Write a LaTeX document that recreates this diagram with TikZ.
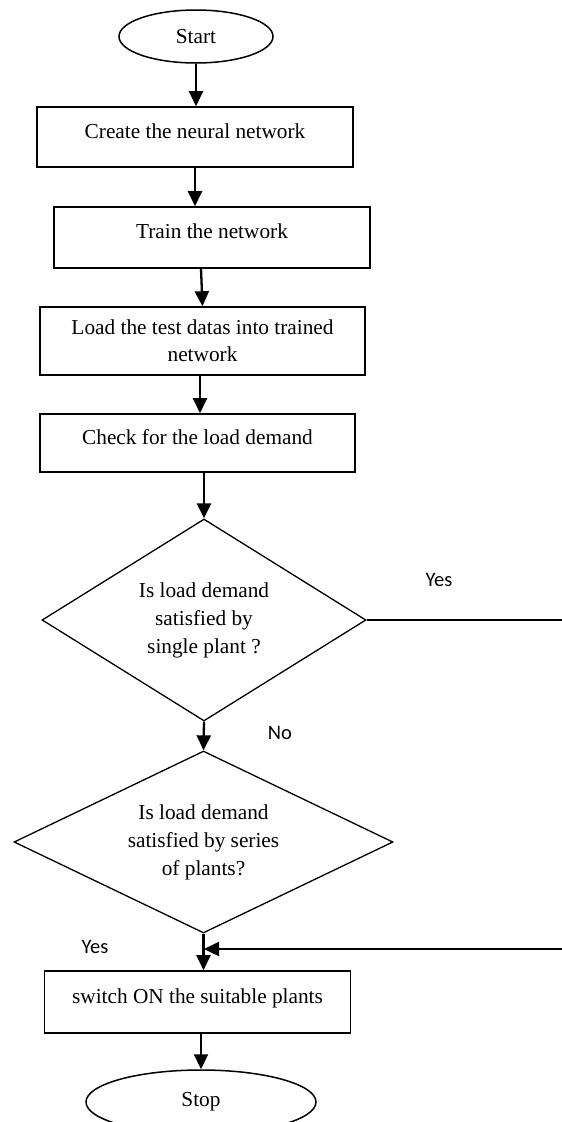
\documentclass[tikz,border=0pt]{standalone}
\usepackage{fontspec}
\setmainfont{Liberation Serif}
\newfontfamily\labfont{Carlito}
\usetikzlibrary{shapes.geometric,arrows.meta,calc}
\tikzset{
  stepbox/.style={draw, line width=1.6pt, rectangle, inner sep=0pt, align=center,
    font=\fontsize{21.3}{27}\selectfont},
  termbox/.style={draw, line width=1.5pt, ellipse, inner sep=0pt,
    font=\fontsize{21.3}{27}\selectfont},
  decbox/.style={draw, line width=1.3pt, diamond, inner sep=0pt, align=center,
    font=\fontsize{21.3}{28}\selectfont},
  flow/.style={line width=2.3pt, -{Triangle[length=15pt,width=14pt]}},
  lab/.style={font=\labfont\fontsize{20.5}{24}\selectfont, inner sep=0pt}
}
\begin{document}
\begin{tikzpicture}[x=1pt,y=-1pt]
\useasboundingbox[fill=white] (0,0) rectangle (562,1122);

\node[termbox, minimum width=154pt, minimum height=53pt] (start) at (196,36.5) {Start};
\node[stepbox, minimum width=316pt, minimum height=60pt, text depth=12pt] (b1) at (195,137) {Create the neural network};
\node[stepbox, minimum width=316pt, minimum height=61pt, text depth=12pt] (b2) at (212,237.5) {Train the network};
\node[stepbox, minimum width=325pt, minimum height=68pt] (b3) at (202.5,341) {Load the test datas into trained\\network};
\node[stepbox, minimum width=315pt, minimum height=58pt, text depth=12pt] (b4) at (197.5,443) {Check for the load demand};
\node[decbox, minimum width=324pt, minimum height=202pt, aspect=1.6] (d1) at (204,620) {Is load demand\\satisfied by\\single plant ?};
\node[decbox, minimum width=379pt, minimum height=182pt, aspect=2.08] (d2) at (203.5,842) {Is load demand\\satisfied by series\\of plants?};
\node[stepbox, minimum width=306pt, minimum height=62pt, text depth=12pt] (b5) at (197.5,1002) {switch ON the suitable plants};
\node[termbox, minimum width=230pt, minimum height=64pt] (stop) at (201,1102) {Stop};

\node[lab] (yes1) at (439,580) {Yes};
\node[lab] (no1) at (280,733) {No};
\node[lab] (yes2) at (95,947) {Yes};

\coordinate (r1) at (580,620);
\coordinate (join) at (204,949);

\draw[flow] (start.south) -- (start.south |- b1.north);
\draw[flow] (b1.south) -- (b1.south |- b2.north);
\draw[flow] ([xshift=-11pt]b2.south) -- (b3.north);
\draw[flow] ([xshift=-2.5pt]b3.south) -- ([xshift=-2.5pt]b3.south |- b4.north);
\draw[flow] (d1.north |- b4.south) -- (d1.north);
\draw[flow] (d1.south) -- (d2.north);
\draw[flow] (d2.south) -- (d2.south |- b5.north);
\draw[flow] (stop.north |- b5.south) -- (stop.north);
\draw[line width=1.3pt] (d1.east) -- (r1);
\draw[flow] (r1) |- (join);
\end{tikzpicture}
\end{document}
